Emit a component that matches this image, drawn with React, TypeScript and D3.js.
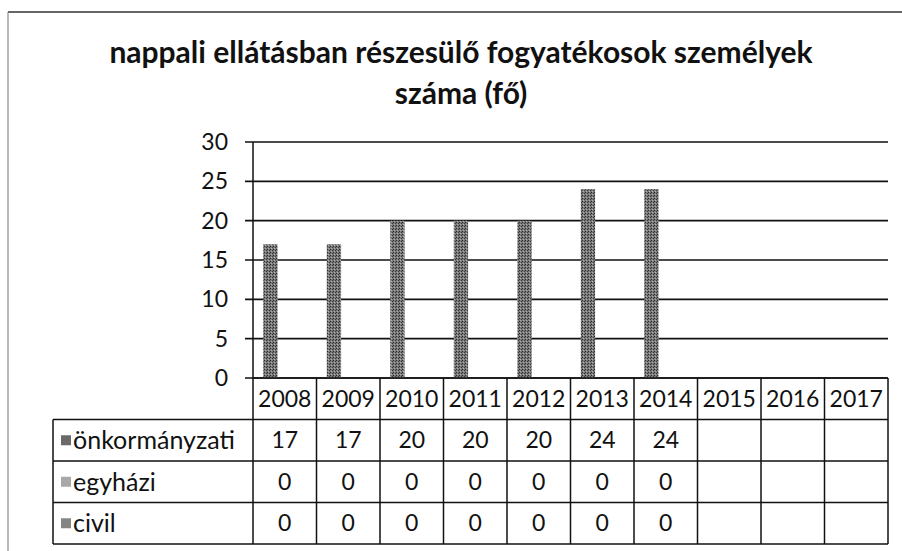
import React from "react";
import * as d3 from "d3";

const years = ["2008", "2009", "2010", "2011", "2012", "2013", "2014", "2015", "2016", "2017"];
const seriesNames = ["önkormányzati", "egyházi", "civil"];
const onkormanyzati: (number | null)[] = [17, 17, 20, 20, 20, 24, 24, null, null, null];
const egyhazi: (number | null)[] = [0, 0, 0, 0, 0, 0, 0, null, null, null];
const civil: (number | null)[] = [0, 0, 0, 0, 0, 0, 0, null, null, null];
const yTicks = [0, 5, 10, 15, 20, 25, 30];
const titleLines = ["nappali ellátásban részesülő fogyatékosok személyek", "száma (fő)"];

const seriesValues = [onkormanyzati, egyhazi, civil];
const seriesColors = ["#6a6a6a", "#a8a8a8", "#858585"];

const W = 902;
const H = 551;
const plotLeft = 253;
const plotRight = 888;
const plotTop = 142;
const plotBottom = 378;
const tableLeft = 53;
const rowH = 41.5;
const FONT = "Lato, 'Open Sans', sans-serif";

export default function App() {
  const x = d3.scaleBand<string>().domain(years).range([plotLeft, plotRight]).paddingInner(0).paddingOuter(0);
  const y = d3.scaleLinear().domain([0, 30]).range([plotBottom, plotTop]);
  const inner = d3
    .scaleBand<string>()
    .domain(seriesNames)
    .range([0, x.bandwidth()])
    .paddingInner(0)
    .paddingOuter(0.72);
  const bw = x.bandwidth();
  const rowTop = (r: number) => plotBottom + r * rowH;
  const tableBottom = rowTop(4);

  return (
    <svg width={W} height={H} style={{ position: "absolute", left: 0, top: 0, background: "#fff" }}>
      <defs>
        <pattern id="stip" width="3" height="3" patternUnits="userSpaceOnUse">
          <rect width="3" height="3" fill="#7a7a7a" />
          <rect x="0" y="0" width="1" height="1" fill="#2a2a2a" />
          <rect x="2" y="1" width="1" height="1" fill="#3a3a3a" />
          <rect x="1" y="2" width="1" height="1" fill="#b0b0b0" />
        </pattern>
      </defs>
      <rect x={0} y={0} width={W} height={H} fill="#fff" />
      {/* outer frame */}
      <line x1={8} y1={12} x2={W} y2={12} stroke="#333" strokeWidth={1.5} />
      <line x1={8} y1={12} x2={8} y2={H} stroke="#8a8a8a" strokeWidth={1.2} />

      {/* title */}
      {titleLines.map((t, i) => (
        <text
          key={i}
          x={461}
          y={63 + i * 41}
          textAnchor="middle"
          fontFamily={FONT}
          fontWeight={700}
          fontSize={30}
          fill="#111"
        >
          {t}
        </text>
      ))}

      {/* gridlines */}
      {yTicks.map((t) => (
        <g key={t}>
          <line x1={plotLeft - 8} x2={plotRight} y1={y(t)} y2={y(t)} stroke="#111" strokeWidth={1.6} />
          <text
            x={228}
            y={y(t)}
            dy="0.35em"
            textAnchor="end"
            fontFamily={FONT}
            fontSize={23}
            fill="#111"
          >
            {t}
          </text>
        </g>
      ))}
      <line x1={plotLeft} x2={plotLeft} y1={plotTop} y2={plotBottom} stroke="#111" strokeWidth={1.5} />

      {/* bars */}
      {seriesValues.map((vals, si) =>
        vals.map((v, i) =>
          v == null || v === 0 ? null : (
            <rect
              key={`${si}-${i}`}
              x={(x(years[i]) as number) + (inner(seriesNames[si]) as number)}
              y={y(v)}
              width={inner.bandwidth()}
              height={y(0) - y(v)}
              fill="url(#stip)"
            />
          )
        )
      )}

      {/* data table */}
      <g stroke="#111" strokeWidth={1.5}>
        <line x1={plotLeft} x2={plotRight} y1={plotBottom} y2={plotBottom} />
        {[1, 2, 3, 4].map((r) => (
          <line key={r} x1={tableLeft} x2={plotRight} y1={rowTop(r)} y2={rowTop(r)} />
        ))}
        <line x1={tableLeft} x2={tableLeft} y1={rowTop(1)} y2={tableBottom} />
        {years.map((yr) => (
          <line
            key={yr}
            x1={x(yr) as number}
            x2={x(yr) as number}
            y1={plotBottom}
            y2={tableBottom}
          />
        ))}
        <line x1={plotRight} x2={plotRight} y1={plotBottom} y2={tableBottom} />
      </g>

      {years.map((yr) => (
        <text
          key={yr}
          x={(x(yr) as number) + bw / 2}
          y={rowTop(0) + rowH / 2}
          dy="0.35em"
          textAnchor="middle"
          fontFamily={FONT}
          fontSize={23}
          fill="#111"
        >
          {yr}
        </text>
      ))}

      {seriesNames.map((name, si) => (
        <g key={name}>
          <rect
            x={61}
            y={rowTop(si + 1) + rowH / 2 - 5}
            width={10}
            height={10}
            fill={seriesColors[si]}
          />
          <text
            x={73}
            y={rowTop(si + 1) + rowH / 2}
            dy="0.35em"
            fontFamily={FONT}
            fontSize={25}
            fill="#111"
          >
            {name}
          </text>
          {seriesValues[si].map((v, i) =>
            v == null ? null : (
              <text
                key={i}
                x={(x(years[i]) as number) + bw / 2}
                y={rowTop(si + 1) + rowH / 2}
                dy="0.35em"
                textAnchor="middle"
                fontFamily={FONT}
                fontSize={23}
                fill="#111"
              >
                {v}
              </text>
            )
          )}
        </g>
      ))}
    </svg>
  );
}
